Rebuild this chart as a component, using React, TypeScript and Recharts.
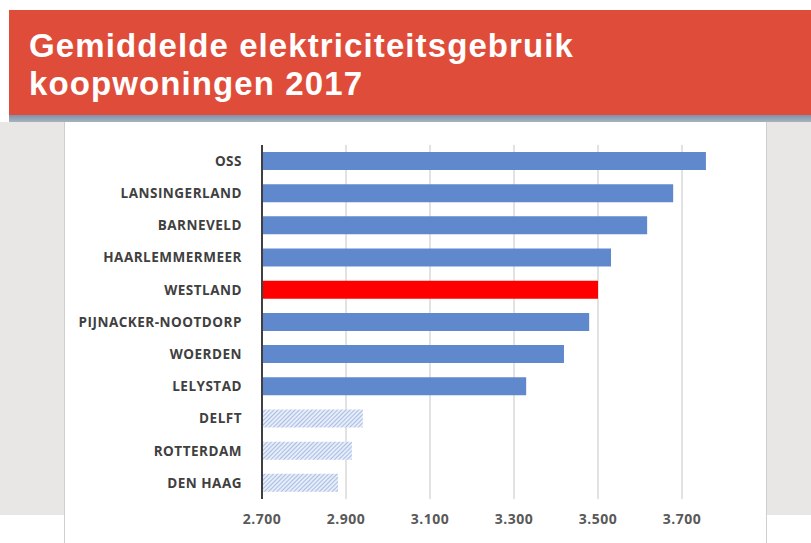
import React from 'react';
import { BarChart, Bar, XAxis, YAxis, CartesianGrid, Cell } from 'recharts';

const municipalities = ['OSS', 'LANSINGERLAND', 'BARNEVELD', 'HAARLEMMERMEER', 'WESTLAND', 'PIJNACKER-NOOTDORP', 'WOERDEN', 'LELYSTAD', 'DELFT', 'ROTTERDAM', 'DEN HAAG'];
const usage = [3757, 3679, 3617, 3531, 3500, 3479, 3419, 3329, 2940, 2914, 2881];
const xTicks = [2700, 2900, 3100, 3300, 3500, 3700];
const highlighted = ['WESTLAND'];
const hatched = ['DELFT', 'ROTTERDAM', 'DEN HAAG'];
const titleLines = ['Gemiddelde elektriciteitsgebruik', 'koopwoningen 2017'];

const data = municipalities.map((name, i) => ({ name, value: usage[i] }));

const fmt = (v: number) => {
  const s = String(Math.round(v));
  return s.replace(/\B(?=(\d{3})+(?!\d))/g, '.');
};

const fillFor = (name: string) => {
  if (highlighted.includes(name)) return '#FF0000';
  if (hatched.includes(name)) return 'url(#hatch)';
  return '#6089CD';
};

export default function App() {
  return (
    <div style={{ position: 'absolute', left: 0, top: 0, width: 811, height: 543, background: '#ffffff', overflow: 'hidden', fontFamily: '"Liberation Sans", Arial, sans-serif' }}>
      <div style={{ position: 'absolute', left: 9, top: 10, width: 802, height: 105, background: '#DF4D3A' }} />
      <div style={{ position: 'absolute', left: 9, top: 115, width: 802, height: 7, background: 'linear-gradient(#7F92AA, #A7B2C0)' }} />
      <div style={{ position: 'absolute', left: 0, top: 122, width: 811, height: 393, background: '#E9E7E5' }} />
      <div style={{ position: 'absolute', left: 64, top: 122, width: 701, height: 421, background: '#ffffff', borderLeft: '1px solid #cfcfcf', borderRight: '1px solid #cfcfcf' }} />
      {titleLines.map((t, i) => (
        <div key={i} style={{ position: 'absolute', left: 29, top: 25.5 + i * 38, color: '#ffffff', fontSize: 33, fontWeight: 700, lineHeight: '40px', letterSpacing: 1.1, whiteSpace: 'nowrap' }}>{t}</div>
      ))}
      <div style={{ position: 'absolute', left: 0, top: 0 }}>
        <BarChart width={811} height={543} data={data} layout="vertical" margin={{ top: 145, right: 87, bottom: 0, left: 0 }} barSize={18}>
          <defs>
            <pattern id="hatch" patternUnits="userSpaceOnUse" width="3" height="3" patternTransform="rotate(45)">
              <rect width="3" height="3" fill="#E6ECF8" />
              <line x1="0" y1="0" x2="0" y2="3" stroke="#86A3D9" strokeWidth="1.3" />
            </pattern>
          </defs>
          <CartesianGrid
            horizontal={false}
            vertical={true}
            stroke="#D9D9D9"
            strokeWidth={1.5}
            verticalCoordinatesGenerator={({ offset }: any) => xTicks.map((t) => offset.left + ((t - 2700) / (3800 - 2700)) * offset.width)}
          />
          <XAxis type="number" domain={[2700, 3800]} ticks={xTicks} tickFormatter={fmt} axisLine={false} tickLine={false} tickMargin={9} height={44} tick={{ fill: '#595959', fontSize: 14, fontWeight: 700, letterSpacing: 0.5, fontFamily: '"Open Sans", sans-serif' }} />
          <YAxis type="category" dataKey="name" width={262} axisLine={{ stroke: '#404040', strokeWidth: 2 }} tickLine={false} tickMargin={14} interval={0} tick={{ fill: '#404040', fontSize: 13.5, fontWeight: 700, letterSpacing: 0.5, fontFamily: '"Open Sans", sans-serif' }} />
          <Bar dataKey="value" isAnimationActive={false}>
            {data.map((d) => (
              <Cell key={d.name} fill={fillFor(d.name)} />
            ))}
          </Bar>
        </BarChart>
      </div>
    </div>
  );
}
